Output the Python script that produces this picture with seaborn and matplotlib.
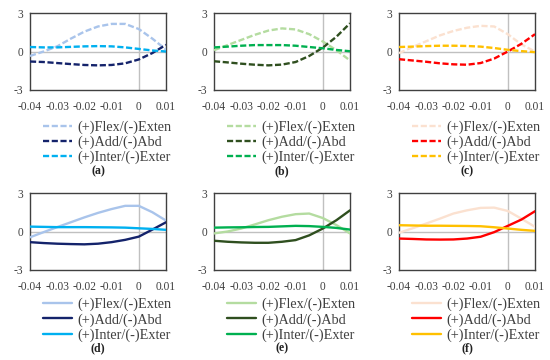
import matplotlib
matplotlib.use("Agg")
import matplotlib.pyplot as plt
import seaborn as sns
import pandas as pd

# ---- data ----
x = [-0.04, -0.035, -0.03, -0.025, -0.02, -0.015, -0.01, -0.005, 0.0, 0.005, 0.01]

a_flex = [-0.35, 0.0, 0.4, 1.0, 1.55, 1.95, 2.15, 2.15, 1.75, 1.0, 0.15]
a_add = [-0.78, -0.82, -0.9, -0.98, -1.05, -1.08, -1.05, -0.92, -0.62, -0.12, 0.52]
a_inter = [0.35, 0.32, 0.32, 0.36, 0.4, 0.42, 0.4, 0.32, 0.2, 0.08, 0.0]

b_flex = [0.1, 0.5, 0.9, 1.3, 1.63, 1.8, 1.72, 1.35, 0.78, 0.1, -0.7]
b_add = [-0.76, -0.85, -0.95, -1.03, -1.08, -1.02, -0.82, -0.35, 0.3, 1.15, 2.2]
b_inter = [0.32, 0.38, 0.45, 0.5, 0.5, 0.5, 0.45, 0.35, 0.25, 0.12, 0.02]

c_flex = [-0.13, 0.35, 0.8, 1.25, 1.6, 1.85, 2.0, 1.95, 1.35, 0.55, 0.0]
c_add = [-0.6, -0.7, -0.8, -0.92, -1.0, -1.03, -0.9, -0.55, 0.0, 0.6, 1.35]
c_inter = [0.35, 0.38, 0.42, 0.45, 0.45, 0.43, 0.38, 0.27, 0.13, 0.03, -0.05]

d_flex = [-0.45, -0.05, 0.34, 0.72, 1.1, 1.45, 1.75, 2.0, 2.0, 1.5, 0.85]
d_add = [-0.83, -0.9, -0.95, -0.98, -1.0, -0.95, -0.83, -0.65, -0.4, 0.15, 0.72]
d_inter = [0.38, 0.36, 0.34, 0.34, 0.34, 0.33, 0.32, 0.3, 0.25, 0.2, 0.13]

e_flex = [-0.15, 0.0, 0.23, 0.55, 0.88, 1.15, 1.35, 1.4, 1.05, 0.5, -0.15]
e_add = [-0.72, -0.8, -0.85, -0.88, -0.88, -0.8, -0.67, -0.3, 0.23, 0.88, 1.65]
e_inter = [0.3, 0.32, 0.33, 0.35, 0.36, 0.4, 0.44, 0.42, 0.36, 0.28, 0.15]

f_flex = [-0.1, 0.25, 0.62, 1.0, 1.4, 1.65, 1.84, 1.86, 1.6, 1.0, 0.36]
f_add = [-0.55, -0.58, -0.62, -0.63, -0.62, -0.55, -0.41, -0.05, 0.44, 0.93, 1.58]
f_inter = [0.49, 0.47, 0.45, 0.45, 0.44, 0.43, 0.41, 0.33, 0.23, 0.13, 0.05]

series_names = ["(+)Flex/(-)Exten", "(+)Add/(-)Abd", "(+)Inter/(-)Exter"]
panel_labels = ["a", "b", "c", "d", "e", "f"]
x_ticks = [-0.04, -0.03, -0.02, -0.01, 0.0, 0.01]
x_ticklabels = ["-0.04", "-0.03", "-0.02", "-0.01", "0", "0.01"]
y_ticks = [-3, 0, 3]
y_ticklabels = ["-3", "0", "3"]

blues = ["#a9c4eb", "#14236b", "#00b0f0"]
greens = ["#b4dca0", "#2f4f1f", "#00b050"]
reds = ["#fbe1d0", "#ff0000", "#ffc000"]

panels = [
    (a_flex, a_add, a_inter, blues, True),
    (b_flex, b_add, b_inter, greens, True),
    (c_flex, c_add, c_inter, reds, True),
    (d_flex, d_add, d_inter, blues, False),
    (e_flex, e_add, e_inter, greens, False),
    (f_flex, f_add, f_inter, reds, False),
]

sns.set_style("white")
plt.rcParams["font.family"] = ["Liberation Serif", "DejaVu Serif"]
plt.rcParams["axes.unicode_minus"] = False

fig = plt.figure(figsize=(5.5, 3.6), dpi=100)

lefts = [30, 214, 399]
tops = [13, 193]
w_px, h_px = 136, 77
W, H = 550, 360

for i, (flex, add, inter, cols, dashed) in enumerate(panels):
    row, col = divmod(i, 3)
    left = lefts[col] / W
    bottom = 1 - (tops[row] + h_px) / H
    ax = fig.add_axes([left, bottom, w_px / W, h_px / H])

    ax.axhline(0, color="#c0c0c0", lw=1.0, zorder=1)
    ax.axvline(0, color="#c0c0c0", lw=1.0, zorder=1)

    df = pd.DataFrame({"x": x * 3,
                       "y": flex + add + inter,
                       "Serie": [series_names[0]] * len(x) + [series_names[1]] * len(x)
                                + [series_names[2]] * len(x)})
    for k, name in enumerate(series_names):
        sub = df[df["Serie"] == name]
        line_kw = dict(lw=1.7, color=cols[k], label=name)
        if dashed:
            line_kw["dashes"] = (2.6, 1.1)
        sns.lineplot(data=sub, x="x", y="y", ax=ax, zorder=3, **line_kw)

    ax.set_xlim(-0.04, 0.01)
    ax.set_ylim(-3, 3)
    ax.set_xticks(x_ticks)
    ax.set_xticklabels(x_ticklabels)
    ax.set_yticks(y_ticks)
    ax.set_yticklabels(y_ticklabels)
    ax.tick_params(length=0, labelsize=8.3, colors="#404040")
    ax.tick_params(axis="x", pad=8)
    ax.tick_params(axis="y", pad=5)
    ax.set_xlabel("")
    ax.set_ylabel("")
    for s in ax.spines.values():
        s.set_color("#404040")
        s.set_linewidth(1.0)

    anchor_y = -0.30 if row == 0 else -0.27
    ax.legend(loc="upper center", bbox_to_anchor=(0.57, anchor_y), frameon=False,
              fontsize=10.3, handlelength=2.0, handletextpad=0.4,
              labelspacing=0.12, borderpad=0, labelcolor="#404040")

    cx = (lefts[col] + w_px * 0.5) / W
    cy = 1 - (171 + row * 177) / H
    fig.text(cx, cy, f"({panel_labels[i]})", ha="center", va="center",
             fontsize=8.5, fontweight="bold", color="#222222")

fig.savefig("out.png", dpi=100)
